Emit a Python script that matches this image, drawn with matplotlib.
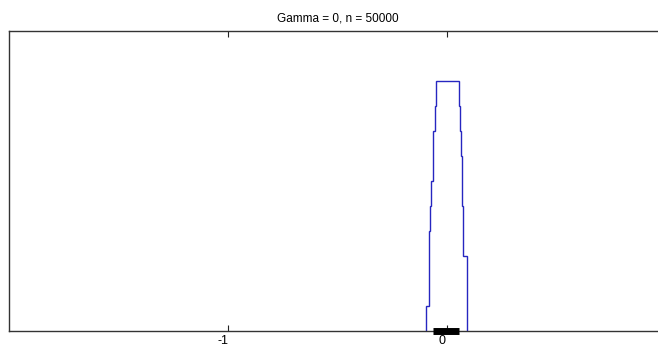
import matplotlib
matplotlib.use("Agg")
import matplotlib.pyplot as plt
import matplotlib.transforms as mtransforms

plt.rcParams['font.family'] = ['Liberation Sans', 'DejaVu Sans']

# step outline of the histogram (bin edges and relative heights)
bin_edges = [-0.0970, -0.0847, -0.0788, -0.0729, -0.0665, -0.0638, -0.0574,
             -0.0515, 0.0519, 0.0592, 0.0638, 0.0683, 0.0729, 0.0883]
heights = [0.1, 0.4, 0.5, 0.6, 0.7, 0.8, 0.9, 1.0, 0.9, 0.8, 0.7, 0.5, 0.3]

# interval marked along the baseline
interval = [-0.0638, 0.0546]

xticks = [-1, 0]
xtick_labels = ['-1', '0']
title = 'Gamma = 0, n = 50000'

fig = plt.figure(figsize=(6.58, 3.49), dpi=100)
ax = fig.add_axes([0.0137, 0.0516, 0.9992, 0.8596])

ax.stairs(heights, bin_edges, baseline=0, color='#2626c0', lw=1.0)
ax.plot(interval, [0, 0], color='black', lw=5.0, solid_capstyle='butt',
        clip_on=False, zorder=5)

ax.set_xlim(-2, 1)
ax.set_ylim(0, 1.2)
ax.set_xticks(xticks)
ax.set_xticklabels(xtick_labels)
ax.set_yticks([])
ax.tick_params(axis='x', direction='in', length=4, width=0.8, top=True,
               labelsize=9, pad=3, color='#222222')
for lab in ax.get_xticklabels():
    lab.set_transform(lab.get_transform() +
                      mtransforms.ScaledTranslation(-4 / 72, 0, fig.dpi_scale_trans))
for s in ax.spines.values():
    s.set_linewidth(1.0)
    s.set_color('#333333')
ax.set_title(title, fontsize=8.5, pad=7)

fig.savefig('out.png', dpi=100)
